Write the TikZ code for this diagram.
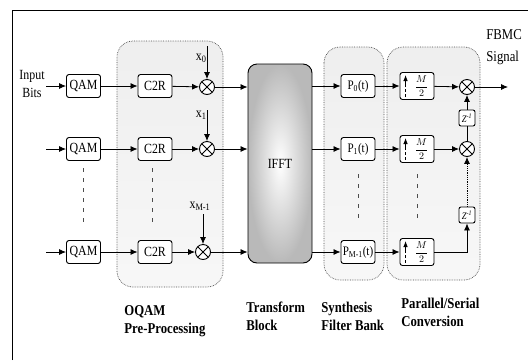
\documentclass[tikz,border=0pt]{standalone}
\usepackage{fontspec}
\setmainfont{Liberation Serif}[FakeStretch=0.85]
\usetikzlibrary{arrows.meta,calc}
\begin{document}
\begin{tikzpicture}[x=1pt,y=-1pt,
  line width=0.8pt,
  blk/.style={draw,rounded corners=2.5pt,line width=0.9pt,minimum width=34pt,minimum height=23pt,inner sep=1pt,fill=white,font=\fontsize{14}{15}\selectfont},
  dnb/.style={blk,minimum height=27pt},
  zb/.style={draw,rounded corners=2pt,line width=0.9pt,minimum width=16pt,minimum height=16pt,inner sep=0pt,fill=white,font=\fontsize{10}{11}\selectfont\itshape},
  mul/.style={draw,circle,line width=0.9pt,minimum size=15pt,inner sep=0pt,fill=white,
    path picture={\draw[line width=0.9pt] (path picture bounding box.north west)--(path picture bounding box.south east)
      (path picture bounding box.north east)--(path picture bounding box.south west);}},
  arr/.style={-{Latex[length=7pt,width=6pt]}},
  grp/.style={draw=gray!60!black,densely dotted,line width=0.7pt,rounded corners=16pt,top color=gray!13,bottom color=gray!6},
  vdots/.style={gray!60!black,line width=1pt,dash pattern=on 4pt off 6pt},
  lbl/.style={inner sep=0pt,font=\fontsize{14}{15}\selectfont},
  captxt/.style={inner sep=0pt,anchor=north west,align=left,font=\bfseries\fontsize{15}{18}\selectfont}
]
\useasboundingbox (0,0) rectangle (528,360);
\draw[line width=1pt] (12,360) -- (12,10) -- (528,10);

% groups
\draw[grp] (117,41) rectangle (223,287);
\draw[grp] (324,47) rectangle (384,280);
\draw[grp] (387,47) rectangle (480,280);

% vertical dotted continuation marks
\draw[vdots] (83,168) -- (83,226);
\draw[vdots] (152,168) -- (152,226);
\draw[vdots] (358,174) -- (358,222);
\draw[vdots] (417,174) -- (417,222);

% input
\node[lbl,align=center,font=\fontsize{14}{18}\selectfont] (inb) at (32,84) {Input\\Bits};
\coordinate (s1) at (46,86);
\coordinate (s2) at (46,149);
\coordinate (s3) at (46,252);

% QAM
\node[blk] (q1) at (83.5,86) {QAM};
\node[blk] (q2) at (83.5,149) {QAM};
\node[blk] (q3) at (83.5,252) {QAM};
% C2R
\node[blk] (c1) at (155,86) {C2R};
\node[blk] (c2) at (155,149) {C2R};
\node[blk] (c3) at (155,252) {C2R};
% multipliers
\node[mul] (m1) at (207,87) {};
\node[mul] (m2) at (207,149) {};
\node[mul] (m3) at (203,252) {};
\node[lbl,anchor=east] (x0) at (207,58) {x\textsubscript{0}};
\node[lbl,anchor=east] (x1) at (207,115) {x\textsubscript{1}};
\node[lbl] (x3) at (200,206) {x\textsubscript{M-1}};
\coordinate (a1) at (207,46);
\coordinate (a2) at (207,110);
\coordinate (a3) at (203,214);

% IFFT
\node[draw,line width=0.9pt,rounded corners=9pt,minimum width=64pt,minimum height=199pt,inner color=white,outer color=gray!55,font=\fontsize{14}{15}\selectfont] (ifft) at (280,163.5) {IFFT};

% synthesis filters
\node[blk,font=\fontsize{13}{14}\selectfont] (p1) at (358,86) {P\textsubscript{0}(t)};
\node[blk,font=\fontsize{13}{14}\selectfont] (p2) at (358,149) {P\textsubscript{1}(t)};
\node[blk,font=\fontsize{13}{14}\selectfont] (p3) at (358,252) {P\textsubscript{M-1}(t)};

% upsamplers
\node[dnb] (d1) at (417,86) {\hspace{9pt}\fontsize{10}{11}\selectfont$\displaystyle\frac{M}{2}$};
\node[dnb] (d2) at (417,149) {\hspace{9pt}\fontsize{10}{11}\selectfont$\displaystyle\frac{M}{2}$};
\node[dnb] (d3) at (417,252) {\hspace{9pt}\fontsize{10}{11}\selectfont$\displaystyle\frac{M}{2}$};
\foreach \d in {d1,d2,d3}{
  \draw[line width=0.7pt,densely dashed] ($(\d.west)+(6,11)$) -- ($(\d.west)+(6,0)$);
  \draw[line width=0.8pt,-{Latex[length=6pt,width=4.5pt]}] ($(\d.west)+(6,0)$) -- ($(\d.west)+(6,-11)$);
}

% P/S
\node[mul] (n1) at (467,87) {};
\node[mul] (n2) at (467,149) {};
\node[zb] (z1) at (467,118) {Z\textsuperscript{-1}};
\node[zb] (z2) at (467,215) {Z\textsuperscript{-1}};
\coordinate (out) at (508,87);
\coordinate (k3) at (467,252);

\node[captxt,font=\fontsize{15}{22}\selectfont] (fb) at (486,29) {FBMC\\Signal};

% connectors
\draw[arr] (s1) -- (q1);
\draw[arr] (s2) -- (q2);
\draw[arr] (s3) -- (q3);
\draw[arr] (q1) -- (c1);
\draw[arr] (q2) -- (c2);
\draw[arr] (q3) -- (c3);
\draw[arr] (c1) -- (m1);
\draw[arr] (c2) -- (m2);
\draw[arr] (c3) -- (m3);
\draw[arr] (a1) -- (m1);
\draw[arr] (a2) -- (m2);
\draw[arr] (a3) -- (m3);
\draw[arr] (m1) -- (m1 -| ifft.west);
\draw[arr] (m2) -- (m2 -| ifft.west);
\draw[arr] (m3) -- (m3 -| ifft.west);
\draw[arr] (ifft.east |- p1) -- (p1);
\draw[arr] (ifft.east |- p2) -- (p2);
\draw[arr] (ifft.east |- p3) -- (p3);
\draw[arr] (p1) -- (d1);
\draw[arr] (p2) -- (d2);
\draw[arr] (p3) -- (d3);
\draw[arr] (d1) -- (n1);
\draw[arr] (d2) -- (n2);
\draw[arr] (d3.east) -- (k3) -- (z2.south);
\draw[arr,densely dotted] (z2) -- (n2);
\draw (n2) -- (z1);
\draw[arr] (z1) -- (n1);
\draw[arr] (n1) -- (out);

% captions
\node[captxt] (l1) at (124,305) {OQAM\\Pre-Processing};
\node[captxt] (l2) at (246,302) {Transform\\Block};
\node[captxt] (l3) at (321,302) {Synthesis\\Filter Bank};
\node[captxt] (l4) at (401,298) {Parallel/Serial\\Conversion};
\end{tikzpicture}
\end{document}
